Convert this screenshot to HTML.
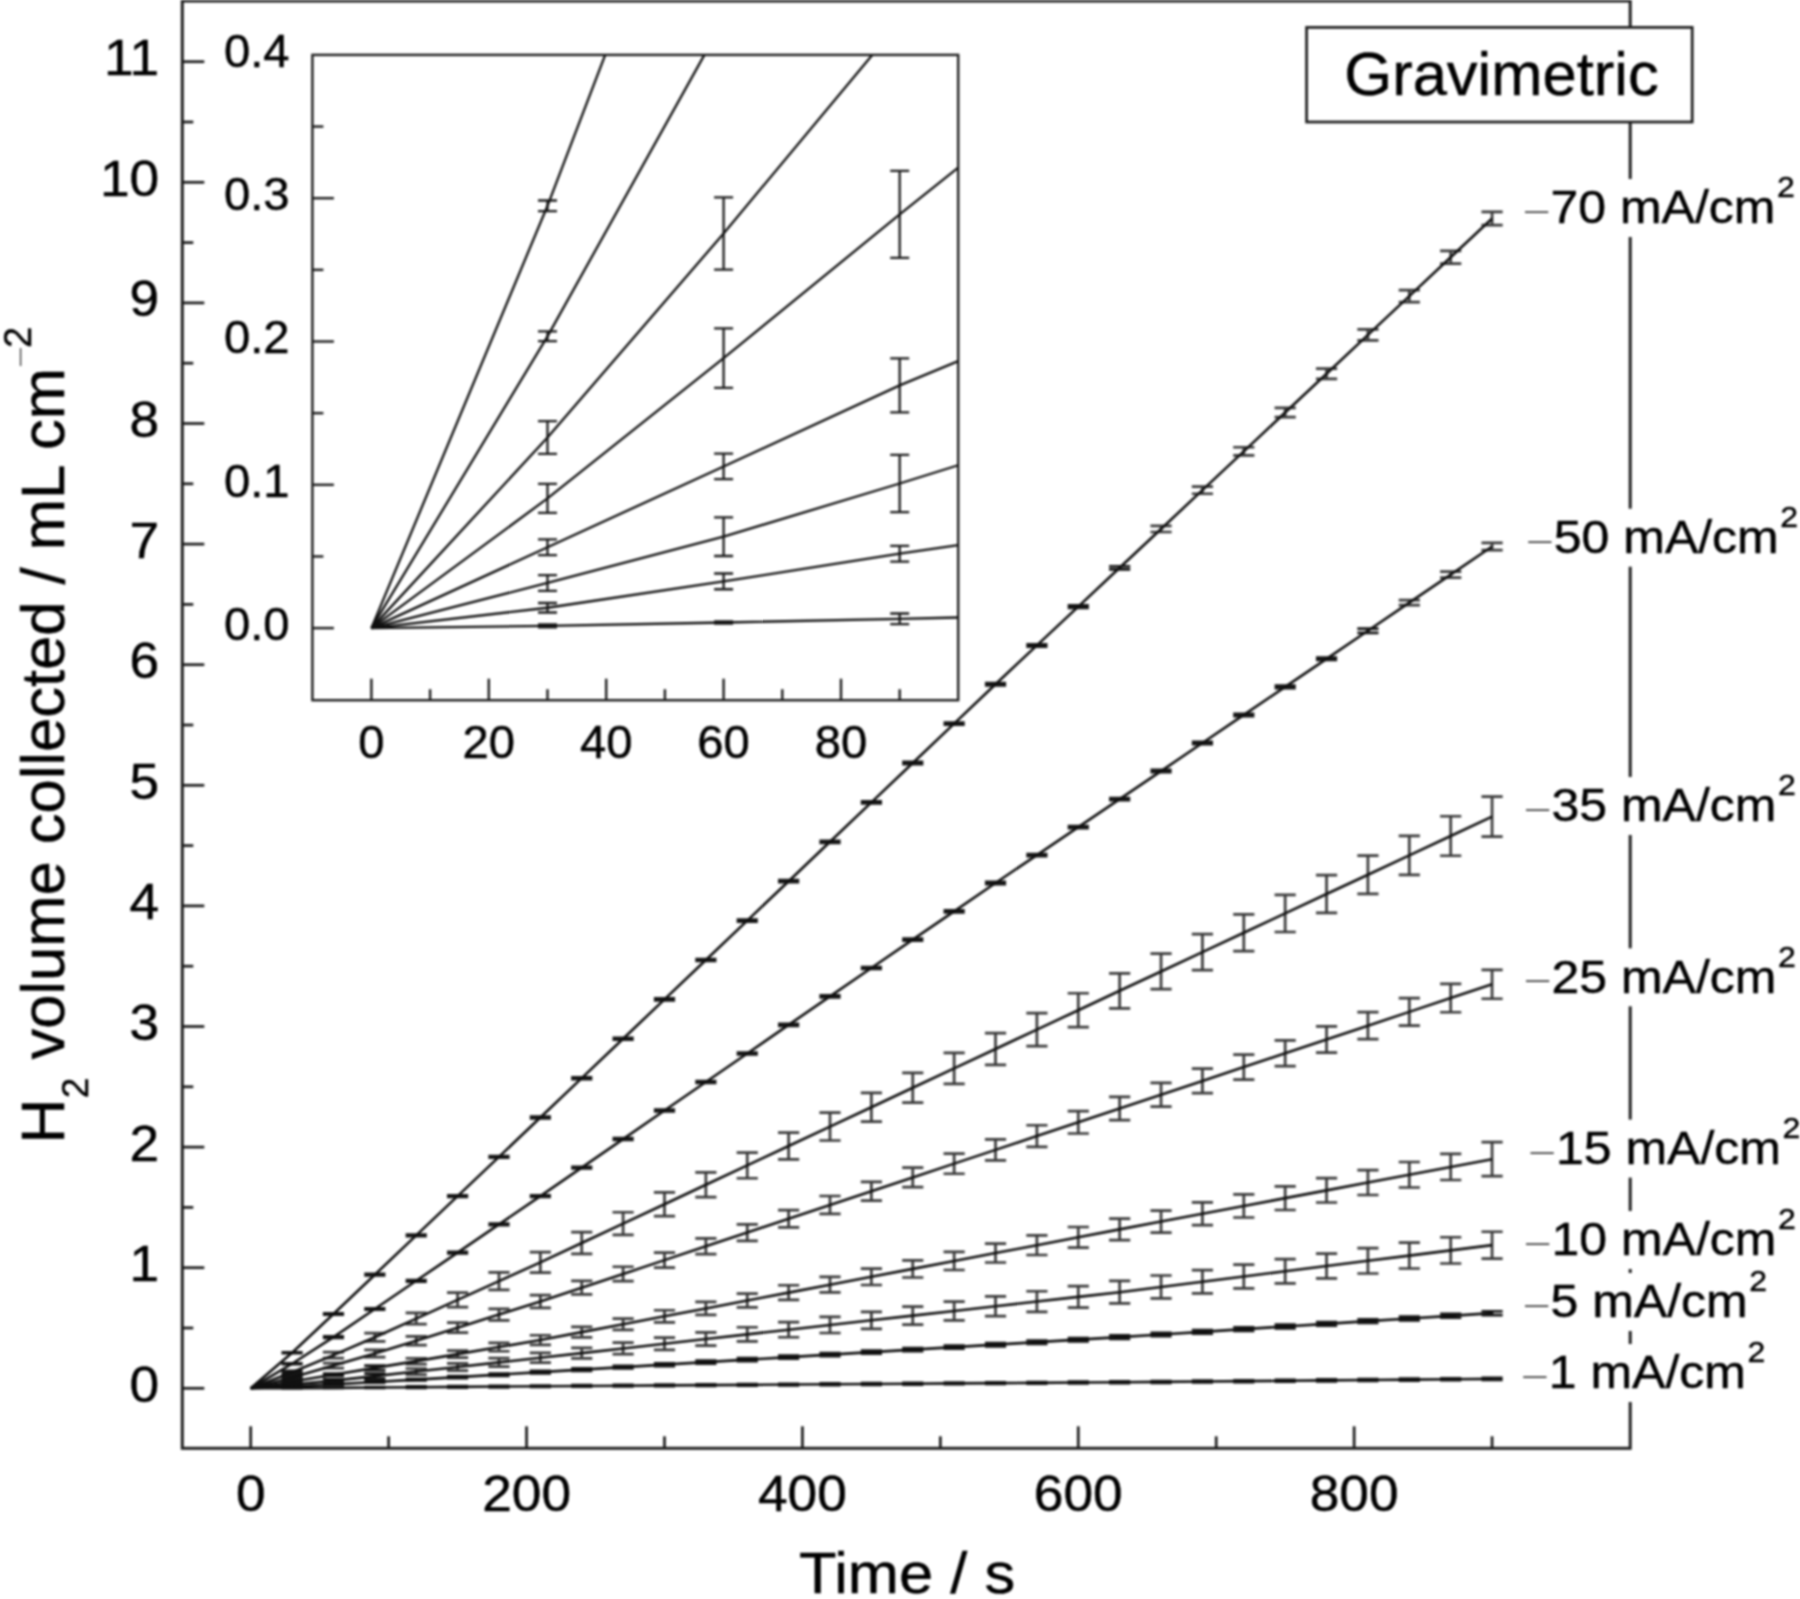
<!DOCTYPE html>
<html lang="en">
<head>
<meta charset="utf-8">
<title>Gravimetric H2 volume collected vs time</title>
<style>html,body{margin:0;padding:0;background:#fff;overflow:hidden}svg{display:block;filter:blur(1.0px)}</style>
</head>
<body>
<svg width="1800" height="1599" viewBox="0 0 1800 1599" font-family="'Liberation Sans', sans-serif" fill="#1c1c1c" stroke="#1c1c1c" stroke-linecap="butt" shape-rendering="geometricPrecision">
<rect x="0" y="0" width="1800" height="1599" fill="#ffffff" stroke="none"/>
<rect x="182.3" y="1.0" width="1447.9" height="1447.3" fill="none" stroke="#202020" stroke-width="3.0"/>
<line x1="182.30" y1="1388.30" x2="204.30" y2="1388.30" stroke-width="2.7" />
<line x1="182.30" y1="1267.70" x2="204.30" y2="1267.70" stroke-width="2.7" />
<line x1="182.30" y1="1147.10" x2="204.30" y2="1147.10" stroke-width="2.7" />
<line x1="182.30" y1="1026.50" x2="204.30" y2="1026.50" stroke-width="2.7" />
<line x1="182.30" y1="905.90" x2="204.30" y2="905.90" stroke-width="2.7" />
<line x1="182.30" y1="785.30" x2="204.30" y2="785.30" stroke-width="2.7" />
<line x1="182.30" y1="664.70" x2="204.30" y2="664.70" stroke-width="2.7" />
<line x1="182.30" y1="544.10" x2="204.30" y2="544.10" stroke-width="2.7" />
<line x1="182.30" y1="423.50" x2="204.30" y2="423.50" stroke-width="2.7" />
<line x1="182.30" y1="302.90" x2="204.30" y2="302.90" stroke-width="2.7" />
<line x1="182.30" y1="182.30" x2="204.30" y2="182.30" stroke-width="2.7" />
<line x1="182.30" y1="61.70" x2="204.30" y2="61.70" stroke-width="2.7" />
<line x1="182.30" y1="1328.00" x2="193.30" y2="1328.00" stroke-width="2.7" />
<line x1="182.30" y1="1207.40" x2="193.30" y2="1207.40" stroke-width="2.7" />
<line x1="182.30" y1="1086.80" x2="193.30" y2="1086.80" stroke-width="2.7" />
<line x1="182.30" y1="966.20" x2="193.30" y2="966.20" stroke-width="2.7" />
<line x1="182.30" y1="845.60" x2="193.30" y2="845.60" stroke-width="2.7" />
<line x1="182.30" y1="725.00" x2="193.30" y2="725.00" stroke-width="2.7" />
<line x1="182.30" y1="604.40" x2="193.30" y2="604.40" stroke-width="2.7" />
<line x1="182.30" y1="483.80" x2="193.30" y2="483.80" stroke-width="2.7" />
<line x1="182.30" y1="363.20" x2="193.30" y2="363.20" stroke-width="2.7" />
<line x1="182.30" y1="242.60" x2="193.30" y2="242.60" stroke-width="2.7" />
<line x1="182.30" y1="122.00" x2="193.30" y2="122.00" stroke-width="2.7" />
<line x1="250.70" y1="1448.30" x2="250.70" y2="1426.30" stroke-width="2.7" />
<line x1="526.56" y1="1448.30" x2="526.56" y2="1426.30" stroke-width="2.7" />
<line x1="802.42" y1="1448.30" x2="802.42" y2="1426.30" stroke-width="2.7" />
<line x1="1078.28" y1="1448.30" x2="1078.28" y2="1426.30" stroke-width="2.7" />
<line x1="1354.14" y1="1448.30" x2="1354.14" y2="1426.30" stroke-width="2.7" />
<line x1="388.63" y1="1448.30" x2="388.63" y2="1436.30" stroke-width="2.7" />
<line x1="664.49" y1="1448.30" x2="664.49" y2="1436.30" stroke-width="2.7" />
<line x1="940.35" y1="1448.30" x2="940.35" y2="1436.30" stroke-width="2.7" />
<line x1="1216.21" y1="1448.30" x2="1216.21" y2="1436.30" stroke-width="2.7" />
<line x1="1492.07" y1="1448.30" x2="1492.07" y2="1436.30" stroke-width="2.7" />
<g id="main-series" fill="none">
<path d="M1161.04,525.97V532.00M1150.44,525.97H1171.64M1150.44,532.00H1171.64M1202.42,486.61V493.73M1191.82,486.61H1213.02M1191.82,493.73H1213.02M1243.80,447.26V455.46M1233.20,447.26H1254.40M1233.20,455.46H1254.40M1285.17,407.96V417.13M1274.58,407.96H1295.77M1274.58,417.13H1295.77M1326.55,368.67V378.80M1315.95,368.67H1337.15M1315.95,378.80H1337.15M1367.93,329.37V340.47M1357.33,329.37H1378.53M1357.33,340.47H1378.53M1409.31,290.08V302.14M1398.71,290.08H1419.91M1398.71,302.14H1419.91M1450.69,250.93V263.65M1440.09,250.93H1461.29M1440.09,263.65H1461.29M1492.07,211.79V225.17M1481.47,211.79H1502.67M1481.47,225.17H1502.67" stroke-width="2.7" stroke="#3a3a3a"/>
<path d="M292.08,1352.31V1353.21M281.48,1352.31H302.68M281.48,1353.21H302.68M333.46,1313.29V1314.73M322.86,1313.29H344.06M322.86,1314.73H344.06M374.84,1273.97V1275.47M364.24,1273.97H385.44M364.24,1275.47H385.44M416.22,1234.65V1236.20M405.62,1234.65H426.82M405.62,1236.20H426.82M457.59,1195.33V1196.94M446.99,1195.33H468.19M446.99,1196.94H468.19M498.97,1156.01V1157.68M488.37,1156.01H509.57M488.37,1157.68H509.57M540.35,1116.70V1118.41M529.75,1116.70H550.95M529.75,1118.41H550.95M581.73,1077.28V1079.05M571.13,1077.28H592.33M571.13,1079.05H592.33M623.11,1037.86V1039.68M612.51,1037.86H633.71M612.51,1039.68H633.71M664.49,998.44V1000.31M653.89,998.44H675.09M653.89,1000.31H675.09M705.87,959.02V960.95M695.27,959.02H716.47M695.27,960.95H716.47M747.25,919.60V921.58M736.65,919.60H757.85M736.65,921.58H757.85M788.63,880.18V882.22M778.03,880.18H799.23M778.03,882.22H799.23M830.01,840.76V842.85M819.41,840.76H840.61M819.41,842.85H840.61M871.38,801.34V803.49M860.78,801.34H881.99M860.78,803.49H881.99M912.76,761.92V764.12M902.16,761.92H923.36M902.16,764.12H923.36M954.14,722.50V724.76M943.54,722.50H964.74M943.54,724.76H964.74M995.52,683.08V685.39M984.92,683.08H1006.12M984.92,685.39H1006.12M1036.90,644.24V646.60M1026.30,644.24H1047.50M1026.30,646.60H1047.50M1078.28,605.41V607.82M1067.68,605.41H1088.88M1067.68,607.82H1088.88M1119.66,566.23V569.37M1109.06,566.23H1130.26M1109.06,569.37H1130.26" stroke-width="2.7" stroke="#151515"/>
<path d="M1409.31,600.13V605.19M1398.71,600.13H1419.91M1398.71,605.19H1419.91M1450.69,571.57V577.60M1440.09,571.57H1461.29M1440.09,577.60H1461.29M1492.07,542.89V550.13M1481.47,542.89H1502.67M1481.47,550.13H1502.67" stroke-width="2.7" stroke="#3a3a3a"/>
<path d="M292.08,1363.34V1364.16M281.48,1363.34H302.68M281.48,1364.16H302.68M333.46,1336.44V1337.89M322.86,1336.44H344.06M322.86,1337.89H344.06M374.84,1308.23V1309.71M364.24,1308.23H385.44M364.24,1309.71H385.44M416.22,1280.01V1281.54M405.62,1280.01H426.82M405.62,1281.54H426.82M457.59,1251.79V1253.36M446.99,1251.79H468.19M446.99,1253.36H468.19M498.97,1223.58V1225.18M488.37,1223.58H509.57M488.37,1225.18H509.57M540.35,1195.36V1197.01M529.75,1195.36H550.95M529.75,1197.01H550.95M581.73,1166.79V1168.48M571.13,1166.79H592.33M571.13,1168.48H592.33M623.11,1138.22V1139.95M612.51,1138.22H633.71M612.51,1139.95H633.71M664.49,1109.66V1111.43M653.89,1109.66H675.09M653.89,1111.43H675.09M705.87,1081.09V1082.90M695.27,1081.09H716.47M695.27,1082.90H716.47M747.25,1052.52V1054.37M736.65,1052.52H757.85M736.65,1054.37H757.85M788.63,1023.95V1025.84M778.03,1023.95H799.23M778.03,1025.84H799.23M830.01,995.39V997.31M819.41,995.39H840.61M819.41,997.31H840.61M871.38,967.02V968.99M860.78,967.02H881.99M860.78,968.99H881.99M912.76,938.66V940.67M902.16,938.66H923.36M902.16,940.67H923.36M954.14,910.30V912.35M943.54,910.30H964.74M943.54,912.35H964.74M995.52,881.94V884.03M984.92,881.94H1006.12M984.92,884.03H1006.12M1036.90,853.98V856.11M1026.30,853.98H1047.50M1026.30,856.11H1047.50M1078.28,826.02V828.19M1067.68,826.02H1088.88M1067.68,828.19H1088.88M1119.66,798.06V800.27M1109.06,798.06H1130.26M1109.06,800.27H1130.26M1161.04,769.97V772.22M1150.44,769.97H1171.64M1150.44,772.22H1171.64M1202.42,741.88V744.17M1191.82,741.88H1213.02M1191.82,744.17H1213.02M1243.80,713.78V716.12M1233.20,713.78H1254.40M1233.20,716.12H1254.40M1285.17,685.69V688.06M1274.58,685.69H1295.77M1274.58,688.06H1295.77M1326.55,657.60V660.01M1315.95,657.60H1337.15M1315.95,660.01H1337.15M1367.93,628.68V632.78M1357.33,628.68H1378.53M1357.33,632.78H1378.53" stroke-width="2.7" stroke="#151515"/>
<path d="M333.46,1352.05V1358.13M322.86,1352.05H344.06M322.86,1358.13H344.06M374.84,1333.19V1341.39M364.24,1333.19H385.44M364.24,1341.39H385.44M416.22,1312.91V1324.21M405.62,1312.91H426.82M405.62,1324.21H426.82M457.59,1292.64V1307.04M446.99,1292.64H468.19M446.99,1307.04H468.19M498.97,1272.37V1289.87M488.37,1272.37H509.57M488.37,1289.87H509.57M540.35,1252.09V1272.69M529.75,1252.09H550.95M529.75,1272.69H550.95M581.73,1232.18V1253.81M571.13,1232.18H592.33M571.13,1253.81H592.33M623.11,1212.27V1234.92M612.51,1212.27H633.71M612.51,1234.92H633.71M664.49,1192.36V1216.03M653.89,1192.36H675.09M653.89,1216.03H675.09M705.87,1172.44V1197.15M695.27,1172.44H716.47M695.27,1197.15H716.47M747.25,1152.53V1178.26M736.65,1152.53H757.85M736.65,1178.26H757.85M788.63,1132.62V1159.38M778.03,1132.62H799.23M778.03,1159.38H799.23M830.01,1112.70V1140.49M819.41,1112.70H840.61M819.41,1140.49H840.61M871.38,1092.79V1121.61M860.78,1092.79H881.99M860.78,1121.61H881.99M912.76,1072.88V1102.72M902.16,1072.88H923.36M902.16,1102.72H923.36M954.14,1052.97V1083.83M943.54,1052.97H964.74M943.54,1083.83H964.74M995.52,1033.05V1064.95M984.92,1033.05H1006.12M984.92,1064.95H1006.12M1036.90,1013.14V1046.06M1026.30,1013.14H1047.50M1026.30,1046.06H1047.50M1078.28,993.23V1027.18M1067.68,993.23H1088.88M1067.68,1027.18H1088.88M1119.66,973.32V1008.29M1109.06,973.32H1130.26M1109.06,1008.29H1130.26M1161.04,953.68V989.22M1150.44,953.68H1171.64M1150.44,989.22H1171.64M1202.42,934.05V970.15M1191.82,934.05H1213.02M1191.82,970.15H1213.02M1243.80,914.42V951.08M1233.20,914.42H1254.40M1233.20,951.08H1254.40M1285.17,894.79V932.02M1274.58,894.79H1295.77M1274.58,932.02H1295.77M1326.55,875.16V912.95M1315.95,875.16H1337.15M1315.95,912.95H1337.15M1367.93,855.53V893.88M1357.33,855.53H1378.53M1357.33,893.88H1378.53M1409.31,835.90V874.81M1398.71,835.90H1419.91M1398.71,874.81H1419.91M1450.69,816.27V855.74M1440.09,816.27H1461.29M1440.09,855.74H1461.29M1492.07,796.64V836.68M1481.47,796.64H1502.67M1481.47,836.68H1502.67" stroke-width="2.7" stroke="#3a3a3a"/>
<path d="M292.08,1370.89V1373.64M281.48,1370.89H302.68M281.48,1373.64H302.68" stroke-width="2.7" stroke="#151515"/>
<path d="M333.46,1363.07V1368.09M322.86,1363.07H344.06M322.86,1368.09H344.06M374.84,1349.82V1357.15M364.24,1349.82H385.44M364.24,1357.15H385.44M416.22,1336.45V1345.15M405.62,1336.45H426.82M405.62,1345.15H426.82M457.59,1322.66V1332.72M446.99,1322.66H468.19M446.99,1332.72H468.19M498.97,1308.87V1320.29M488.37,1308.87H509.57M488.37,1320.29H509.57M540.35,1295.08V1307.86M529.75,1295.08H550.95M529.75,1307.86H550.95M581.73,1280.92V1294.45M571.13,1280.92H592.33M571.13,1294.45H592.33M623.11,1266.77V1281.03M612.51,1266.77H633.71M612.51,1281.03H633.71M664.49,1252.62V1267.62M653.89,1252.62H675.09M653.89,1267.62H675.09M705.87,1238.46V1254.21M695.27,1238.46H716.47M695.27,1254.21H716.47M747.25,1224.31V1240.80M736.65,1224.31H757.85M736.65,1240.80H757.85M788.63,1210.16V1227.39M778.03,1210.16H799.23M778.03,1227.39H799.23M830.01,1196.00V1213.97M819.41,1196.00H840.61M819.41,1213.97H840.61M871.38,1181.85V1200.56M860.78,1181.85H881.99M860.78,1200.56H881.99M912.76,1167.70V1187.15M902.16,1167.70H923.36M902.16,1187.15H923.36M954.14,1153.54V1173.74M943.54,1153.54H964.74M943.54,1173.74H964.74M995.52,1139.39V1160.32M984.92,1139.39H1006.12M984.92,1160.32H1006.12M1036.90,1125.24V1146.91M1026.30,1125.24H1047.50M1026.30,1146.91H1047.50M1078.28,1111.08V1133.50M1067.68,1111.08H1088.88M1067.68,1133.50H1088.88M1119.66,1096.93V1120.09M1109.06,1096.93H1130.26M1109.06,1120.09H1130.26M1161.04,1082.81V1106.61M1150.44,1082.81H1171.64M1150.44,1106.61H1171.64M1202.42,1068.68V1093.12M1191.82,1068.68H1213.02M1191.82,1093.12H1213.02M1243.80,1054.56V1079.64M1233.20,1054.56H1254.40M1233.20,1079.64H1254.40M1285.17,1040.44V1066.16M1274.58,1040.44H1295.77M1274.58,1066.16H1295.77M1326.55,1026.31V1052.68M1315.95,1026.31H1337.15M1315.95,1052.68H1337.15M1367.93,1012.19V1039.20M1357.33,1012.19H1378.53M1357.33,1039.20H1378.53M1409.31,998.07V1025.72M1398.71,998.07H1419.91M1398.71,1025.72H1419.91M1450.69,983.94V1012.24M1440.09,983.94H1461.29M1440.09,1012.24H1461.29M1492.07,969.82V998.76M1481.47,969.82H1502.67M1481.47,998.76H1502.67" stroke-width="2.7" stroke="#3a3a3a"/>
<path d="M292.08,1376.17V1378.60M281.48,1376.17H302.68M281.48,1378.60H302.68" stroke-width="2.7" stroke="#151515"/>
<path d="M416.22,1358.23V1364.04M405.62,1358.23H426.82M405.62,1364.04H426.82M457.59,1350.57V1357.66M446.99,1350.57H468.19M446.99,1357.66H468.19M498.97,1342.90V1351.27M488.37,1342.90H509.57M488.37,1351.27H509.57M540.35,1335.24V1344.88M529.75,1335.24H550.95M529.75,1344.88H550.95M581.73,1326.91V1337.40M571.13,1326.91H592.33M571.13,1337.40H592.33M623.11,1318.58V1329.91M612.51,1318.58H633.71M612.51,1329.91H633.71M664.49,1310.25V1322.42M653.89,1310.25H675.09M653.89,1322.42H675.09M705.87,1301.93V1314.93M695.27,1301.93H716.47M695.27,1314.93H716.47M747.25,1293.60V1307.44M736.65,1293.60H757.85M736.65,1307.44H757.85M788.63,1285.27V1299.95M778.03,1285.27H799.23M778.03,1299.95H799.23M830.01,1276.94V1292.47M819.41,1276.94H840.61M819.41,1292.47H840.61M871.38,1268.62V1284.98M860.78,1268.62H881.99M860.78,1284.98H881.99M912.76,1260.29V1277.49M902.16,1260.29H923.36M902.16,1277.49H923.36M954.14,1251.96V1270.00M943.54,1251.96H964.74M943.54,1270.00H964.74M995.52,1243.63V1262.51M984.92,1243.63H1006.12M984.92,1262.51H1006.12M1036.90,1235.31V1255.02M1026.30,1235.31H1047.50M1026.30,1255.02H1047.50M1078.28,1226.98V1247.53M1067.68,1226.98H1088.88M1067.68,1247.53H1088.88M1119.66,1218.65V1240.05M1109.06,1218.65H1130.26M1109.06,1240.05H1130.26M1161.04,1210.56V1232.54M1150.44,1210.56H1171.64M1150.44,1232.54H1171.64M1202.42,1202.47V1225.03M1191.82,1202.47H1213.02M1191.82,1225.03H1213.02M1243.80,1194.38V1217.52M1233.20,1194.38H1254.40M1233.20,1217.52H1254.40M1285.17,1186.29V1210.02M1274.58,1186.29H1295.77M1274.58,1210.02H1295.77M1326.55,1178.20V1202.51M1315.95,1178.20H1337.15M1315.95,1202.51H1337.15M1367.93,1170.11V1195.00M1357.33,1170.11H1378.53M1357.33,1195.00H1378.53M1409.31,1162.02V1187.49M1398.71,1162.02H1419.91M1398.71,1187.49H1419.91M1450.69,1153.93V1179.98M1440.09,1153.93H1461.29M1440.09,1179.98H1461.29M1492.07,1142.16V1176.16M1481.47,1142.16H1502.67M1481.47,1176.16H1502.67" stroke-width="2.7" stroke="#3a3a3a"/>
<path d="M292.08,1380.83V1382.16M281.48,1380.83H302.68M281.48,1382.16H302.68M333.46,1373.62V1375.77M322.86,1373.62H344.06M322.86,1375.77H344.06M374.84,1365.60V1370.14M364.24,1365.60H385.44M364.24,1370.14H385.44" stroke-width="2.7" stroke="#151515"/>
<path d="M416.22,1368.52V1374.55M405.62,1368.52H426.82M405.62,1374.55H426.82M457.59,1363.33V1370.57M446.99,1363.33H468.19M446.99,1370.57H468.19M498.97,1358.15V1366.59M488.37,1358.15H509.57M488.37,1366.59H509.57M540.35,1352.96V1362.61M529.75,1352.96H550.95M529.75,1362.61H550.95M581.73,1347.82V1358.38M571.13,1347.82H592.33M571.13,1358.38H592.33M623.11,1342.68V1354.15M612.51,1342.68H633.71M612.51,1354.15H633.71M664.49,1337.54V1349.92M653.89,1337.54H675.09M653.89,1349.92H675.09M705.87,1332.39V1345.69M695.27,1332.39H716.47M695.27,1345.69H716.47M747.25,1327.25V1341.46M736.65,1327.25H757.85M736.65,1341.46H757.85M788.63,1322.11V1337.23M778.03,1322.11H799.23M778.03,1337.23H799.23M830.01,1316.97V1333.00M819.41,1316.97H840.61M819.41,1333.00H840.61M871.38,1311.82V1328.78M860.78,1311.82H881.99M860.78,1328.78H881.99M912.76,1306.68V1324.55M902.16,1306.68H923.36M902.16,1324.55H923.36M954.14,1301.54V1320.32M943.54,1301.54H964.74M943.54,1320.32H964.74M995.52,1296.39V1316.09M984.92,1296.39H1006.12M984.92,1316.09H1006.12M1036.90,1291.25V1311.86M1026.30,1291.25H1047.50M1026.30,1311.86H1047.50M1078.28,1286.11V1307.63M1067.68,1286.11H1088.88M1067.68,1307.63H1088.88M1119.66,1280.97V1303.40M1109.06,1280.97H1130.26M1109.06,1303.40H1130.26M1161.04,1275.50V1298.41M1150.44,1275.50H1171.64M1150.44,1298.41H1171.64M1202.42,1270.03V1293.43M1191.82,1270.03H1213.02M1191.82,1293.43H1213.02M1243.80,1264.56V1288.44M1233.20,1264.56H1254.40M1233.20,1288.44H1254.40M1285.17,1259.10V1283.46M1274.58,1259.10H1295.77M1274.58,1283.46H1295.77M1326.55,1253.63V1278.47M1315.95,1253.63H1337.15M1315.95,1278.47H1337.15M1367.93,1248.16V1273.49M1357.33,1248.16H1378.53M1357.33,1273.49H1378.53M1409.31,1242.70V1268.50M1398.71,1242.70H1419.91M1398.71,1268.50H1419.91M1450.69,1237.23V1263.52M1440.09,1237.23H1461.29M1440.09,1263.52H1461.29M1492.07,1231.76V1258.53M1481.47,1231.76H1502.67M1481.47,1258.53H1502.67" stroke-width="2.7" stroke="#3a3a3a"/>
<path d="M292.08,1383.84V1385.16M281.48,1383.84H302.68M281.48,1385.16H302.68M333.46,1378.98V1382.23M322.86,1378.98H344.06M322.86,1382.23H344.06M374.84,1373.72V1378.54M364.24,1373.72H385.44M364.24,1378.54H385.44" stroke-width="2.7" stroke="#151515"/>
<path d="M292.08,1386.19V1386.99M281.48,1386.19H302.68M281.48,1386.99H302.68M333.46,1383.71V1385.03M322.86,1383.71H344.06M322.86,1385.03H344.06M374.84,1381.38V1382.70M364.24,1381.38H385.44M364.24,1382.70H385.44M416.22,1378.82V1380.48M405.62,1378.82H426.82M405.62,1380.48H426.82M457.59,1376.15V1378.14M446.99,1376.15H468.19M446.99,1378.14H468.19M498.97,1373.48V1375.80M488.37,1373.48H509.57M488.37,1375.80H509.57M540.35,1370.81V1373.47M529.75,1370.81H550.95M529.75,1373.47H550.95M581.73,1368.29V1370.99M571.13,1368.29H592.33M571.13,1370.99H592.33M623.11,1365.76V1368.52M612.51,1365.76H633.71M612.51,1368.52H633.71M664.49,1363.24V1366.05M653.89,1363.24H675.09M653.89,1366.05H675.09M705.87,1360.72V1363.58M695.27,1360.72H716.47M695.27,1363.58H716.47M747.25,1358.19V1361.11M736.65,1358.19H757.85M736.65,1361.11H757.85M788.63,1355.67V1358.63M778.03,1355.67H799.23M778.03,1358.63H799.23M830.01,1353.14V1356.16M819.41,1353.14H840.61M819.41,1356.16H840.61M871.38,1350.62V1353.69M860.78,1350.62H881.99M860.78,1353.69H881.99M912.76,1348.09V1351.22M902.16,1348.09H923.36M902.16,1351.22H923.36M954.14,1345.57V1348.75M943.54,1345.57H964.74M943.54,1348.75H964.74M995.52,1343.05V1346.28M984.92,1343.05H1006.12M984.92,1346.28H1006.12M1036.90,1340.52V1343.80M1026.30,1340.52H1047.50M1026.30,1343.80H1047.50M1078.28,1338.00V1341.33M1067.68,1338.00H1088.88M1067.68,1341.33H1088.88M1119.66,1335.47V1338.86M1109.06,1335.47H1130.26M1109.06,1338.86H1130.26M1161.04,1332.78V1336.22M1150.44,1332.78H1171.64M1150.44,1336.22H1171.64M1202.42,1330.09V1333.58M1191.82,1330.09H1213.02M1191.82,1333.58H1213.02M1243.80,1327.39V1330.94M1233.20,1327.39H1254.40M1233.20,1330.94H1254.40M1285.17,1324.70V1328.30M1274.58,1324.70H1295.77M1274.58,1328.30H1295.77M1326.55,1322.01V1325.66M1315.95,1322.01H1337.15M1315.95,1325.66H1337.15M1367.93,1319.32V1323.02M1357.33,1319.32H1378.53M1357.33,1323.02H1378.53M1409.31,1316.62V1320.38M1398.71,1316.62H1419.91M1398.71,1320.38H1419.91M1450.69,1313.93V1317.74M1440.09,1313.93H1461.29M1440.09,1317.74H1461.29M1492.07,1311.24V1315.10M1481.47,1311.24H1502.67M1481.47,1315.10H1502.67" stroke-width="2.7" stroke="#151515"/>
<path d="M292.08,1388.00V1388.24M281.48,1388.00H302.68M281.48,1388.24H302.68M333.46,1387.73V1387.93M322.86,1387.73H344.06M322.86,1387.93H344.06M374.84,1387.07V1387.96M364.24,1387.07H385.44M364.24,1387.96H385.44M416.22,1386.47V1387.92M405.62,1386.47H426.82M405.62,1387.92H426.82M457.59,1386.15V1387.61M446.99,1386.15H468.19M446.99,1387.61H468.19M498.97,1385.82V1387.31M488.37,1385.82H509.57M488.37,1387.31H509.57M540.35,1385.50V1387.00M529.75,1385.50H550.95M529.75,1387.00H550.95M581.73,1385.20V1386.73M571.13,1385.20H592.33M571.13,1386.73H592.33M623.11,1384.91V1386.45M612.51,1384.91H633.71M612.51,1386.45H633.71M664.49,1384.62V1386.18M653.89,1384.62H675.09M653.89,1386.18H675.09M705.87,1384.32V1385.90M695.27,1384.32H716.47M695.27,1385.90H716.47M747.25,1384.03V1385.63M736.65,1384.03H757.85M736.65,1385.63H757.85M788.63,1383.74V1385.35M778.03,1383.74H799.23M778.03,1385.35H799.23M830.01,1383.44V1385.08M819.41,1383.44H840.61M819.41,1385.08H840.61M871.38,1383.15V1384.80M860.78,1383.15H881.99M860.78,1384.80H881.99M912.76,1382.86V1384.53M902.16,1382.86H923.36M902.16,1384.53H923.36M954.14,1382.56V1384.25M943.54,1382.56H964.74M943.54,1384.25H964.74M995.52,1382.27V1383.98M984.92,1382.27H1006.12M984.92,1383.98H1006.12M1036.90,1381.98V1383.70M1026.30,1381.98H1047.50M1026.30,1383.70H1047.50M1078.28,1381.68V1383.43M1067.68,1381.68H1088.88M1067.68,1383.43H1088.88M1119.66,1381.39V1383.15M1109.06,1381.39H1130.26M1109.06,1383.15H1130.26M1161.04,1381.00V1382.79M1150.44,1381.00H1171.64M1150.44,1382.79H1171.64M1202.42,1380.62V1382.42M1191.82,1380.62H1213.02M1191.82,1382.42H1213.02M1243.80,1380.24V1382.05M1233.20,1380.24H1254.40M1233.20,1382.05H1254.40M1285.17,1379.85V1381.69M1274.58,1379.85H1295.77M1274.58,1381.69H1295.77M1326.55,1379.47V1381.32M1315.95,1379.47H1337.15M1315.95,1381.32H1337.15M1367.93,1379.08V1380.96M1357.33,1379.08H1378.53M1357.33,1380.96H1378.53M1409.31,1378.70V1380.59M1398.71,1378.70H1419.91M1398.71,1380.59H1419.91M1450.69,1378.31V1380.22M1440.09,1378.31H1461.29M1440.09,1380.22H1461.29M1492.07,1377.93V1379.86M1481.47,1377.93H1502.67M1481.47,1379.86H1502.67" stroke-width="2.7" stroke="#151515"/>
<polyline points="250.70,1388.30 292.08,1352.76 333.46,1314.01 374.84,1274.72 416.22,1235.43 457.59,1196.14 498.97,1156.84 540.35,1117.55 581.73,1078.16 623.11,1038.77 664.49,999.38 705.87,959.98 747.25,920.59 788.63,881.20 830.01,841.81 871.38,802.41 912.76,763.02 954.14,723.63 995.52,684.24 1036.90,645.42 1078.28,606.61 1119.66,567.80 1161.04,528.98 1202.42,490.17 1243.80,451.36 1285.17,412.55 1326.55,373.73 1367.93,334.92 1409.31,296.11 1450.69,257.29 1492.07,218.48" stroke-width="2.6" stroke="#101010" stroke-linejoin="round"/>
<polyline points="250.70,1388.30 292.08,1363.75 333.46,1337.17 374.84,1308.97 416.22,1280.77 457.59,1252.58 498.97,1224.38 540.35,1196.18 581.73,1167.64 623.11,1139.09 664.49,1110.54 705.87,1081.99 747.25,1053.45 788.63,1024.90 830.01,996.35 871.38,968.01 912.76,939.67 954.14,911.33 995.52,882.99 1036.90,855.05 1078.28,827.11 1119.66,799.17 1161.04,771.10 1202.42,743.02 1243.80,714.95 1285.17,686.88 1326.55,658.80 1367.93,630.73 1409.31,602.66 1450.69,574.58 1492.07,546.51" stroke-width="2.6" stroke="#101010" stroke-linejoin="round"/>
<polyline points="250.70,1388.30 292.08,1372.26 333.46,1355.09 374.84,1337.29 416.22,1318.56 457.59,1299.84 498.97,1281.12 540.35,1262.39 581.73,1242.99 623.11,1223.59 664.49,1204.20 705.87,1184.80 747.25,1165.40 788.63,1146.00 830.01,1126.60 871.38,1107.20 912.76,1087.80 954.14,1068.40 995.52,1049.00 1036.90,1029.60 1078.28,1010.20 1119.66,990.80 1161.04,971.45 1202.42,952.10 1243.80,932.75 1285.17,913.40 1326.55,894.05 1367.93,874.70 1409.31,855.36 1450.69,836.01 1492.07,816.66" stroke-width="2.6" stroke="#101010" stroke-linejoin="round"/>
<polyline points="250.70,1388.30 292.08,1377.39 333.46,1365.58 374.84,1353.48 416.22,1340.80 457.59,1327.69 498.97,1314.58 540.35,1301.47 581.73,1287.69 623.11,1273.90 664.49,1260.12 705.87,1246.34 747.25,1232.55 788.63,1218.77 830.01,1204.99 871.38,1191.21 912.76,1177.42 954.14,1163.64 995.52,1149.86 1036.90,1136.07 1078.28,1122.29 1119.66,1108.51 1161.04,1094.71 1202.42,1080.90 1243.80,1067.10 1285.17,1053.30 1326.55,1039.50 1367.93,1025.70 1409.31,1011.89 1450.69,998.09 1492.07,984.29" stroke-width="2.6" stroke="#101010" stroke-linejoin="round"/>
<polyline points="250.70,1388.30 292.08,1381.50 333.46,1374.70 374.84,1367.87 416.22,1361.14 457.59,1354.11 498.97,1347.09 540.35,1340.06 581.73,1332.15 623.11,1324.24 664.49,1316.34 705.87,1308.43 747.25,1300.52 788.63,1292.61 830.01,1284.70 871.38,1276.80 912.76,1268.89 954.14,1260.98 995.52,1253.07 1036.90,1245.17 1078.28,1237.26 1119.66,1229.35 1161.04,1221.55 1202.42,1213.75 1243.80,1205.95 1285.17,1198.15 1326.55,1190.36 1367.93,1182.56 1409.31,1174.76 1450.69,1166.96 1492.07,1159.16" stroke-width="2.6" stroke="#101010" stroke-linejoin="round"/>
<polyline points="250.70,1388.30 292.08,1384.50 333.46,1380.61 374.84,1376.13 416.22,1371.53 457.59,1366.95 498.97,1362.37 540.35,1357.79 581.73,1353.10 623.11,1348.42 664.49,1343.73 705.87,1339.04 747.25,1334.36 788.63,1329.67 830.01,1324.98 871.38,1320.30 912.76,1315.61 954.14,1310.93 995.52,1306.24 1036.90,1301.55 1078.28,1296.87 1119.66,1292.18 1161.04,1286.96 1202.42,1281.73 1243.80,1276.50 1285.17,1271.28 1326.55,1266.05 1367.93,1260.83 1409.31,1255.60 1450.69,1250.37 1492.07,1245.15" stroke-width="2.6" stroke="#101010" stroke-linejoin="round"/>
<polyline points="250.70,1388.30 292.08,1386.59 333.46,1384.37 374.84,1382.04 416.22,1379.65 457.59,1377.15 498.97,1374.64 540.35,1372.14 581.73,1369.64 623.11,1367.14 664.49,1364.65 705.87,1362.15 747.25,1359.65 788.63,1357.15 830.01,1354.65 871.38,1352.15 912.76,1349.66 954.14,1347.16 995.52,1344.66 1036.90,1342.16 1078.28,1339.66 1119.66,1337.17 1161.04,1334.50 1202.42,1331.83 1243.80,1329.17 1285.17,1326.50 1326.55,1323.83 1367.93,1321.17 1409.31,1318.50 1450.69,1315.83 1492.07,1313.17" stroke-width="2.6" stroke="#101010" stroke-linejoin="round"/>
<polyline points="250.70,1388.30 292.08,1388.12 333.46,1387.83 374.84,1387.52 416.22,1387.20 457.59,1386.88 498.97,1386.57 540.35,1386.25 581.73,1385.97 623.11,1385.68 664.49,1385.40 705.87,1385.11 747.25,1384.83 788.63,1384.54 830.01,1384.26 871.38,1383.98 912.76,1383.69 954.14,1383.41 995.52,1383.12 1036.90,1382.84 1078.28,1382.55 1119.66,1382.27 1161.04,1381.89 1202.42,1381.52 1243.80,1381.14 1285.17,1380.77 1326.55,1380.39 1367.93,1380.02 1409.31,1379.64 1450.69,1379.27 1492.07,1378.89" stroke-width="2.6" stroke="#101010" stroke-linejoin="round"/>
</g>
<g stroke="#000000" stroke-width="0.45" fill="#000000">
<text transform="translate(159.20,1401.70) scale(1.055,1)" font-size="50.5" text-anchor="end" >0</text>
<text transform="translate(159.20,1281.10) scale(1.055,1)" font-size="50.5" text-anchor="end" >1</text>
<text transform="translate(159.20,1160.50) scale(1.055,1)" font-size="50.5" text-anchor="end" >2</text>
<text transform="translate(159.20,1039.90) scale(1.055,1)" font-size="50.5" text-anchor="end" >3</text>
<text transform="translate(159.20,919.30) scale(1.055,1)" font-size="50.5" text-anchor="end" >4</text>
<text transform="translate(159.20,798.70) scale(1.055,1)" font-size="50.5" text-anchor="end" >5</text>
<text transform="translate(159.20,678.10) scale(1.055,1)" font-size="50.5" text-anchor="end" >6</text>
<text transform="translate(159.20,557.50) scale(1.055,1)" font-size="50.5" text-anchor="end" >7</text>
<text transform="translate(159.20,436.90) scale(1.055,1)" font-size="50.5" text-anchor="end" >8</text>
<text transform="translate(159.20,316.30) scale(1.055,1)" font-size="50.5" text-anchor="end" >9</text>
<text transform="translate(159.20,195.70) scale(1.055,1)" font-size="50.5" text-anchor="end" >10</text>
<text transform="translate(159.20,75.10) scale(1.055,1)" font-size="50.5" text-anchor="end" >11</text>
<text transform="translate(250.70,1511.40) scale(1.055,1)" font-size="50.5" text-anchor="middle" >0</text>
<text transform="translate(526.56,1511.40) scale(1.055,1)" font-size="50.5" text-anchor="middle" >200</text>
<text transform="translate(802.42,1511.40) scale(1.055,1)" font-size="50.5" text-anchor="middle" >400</text>
<text transform="translate(1078.28,1511.40) scale(1.055,1)" font-size="50.5" text-anchor="middle" >600</text>
<text transform="translate(1354.14,1511.40) scale(1.055,1)" font-size="50.5" text-anchor="middle" >800</text>
</g>
<g stroke="#000000" stroke-width="0.45" fill="#000000">
<text transform="translate(907.00,1593.00) scale(1.06,1)" font-size="58" text-anchor="middle" >Time / s</text>
<text transform="translate(63.6,1143.6) rotate(-90)" font-size="62">H</text>
<text transform="translate(88.2,1098.2) rotate(-90)" font-size="37">2</text>
<text transform="translate(63.6,1059.6) rotate(-90) scale(0.992,1)" font-size="62">volume collected / mL cm</text>
<text transform="translate(26.3,366.0) rotate(-90) scale(0.85,0.55)" font-size="38" fill="#3c3c3c" stroke="none">–</text>
<text transform="translate(30.6,348.0) rotate(-90)" font-size="38">2</text>
</g>
<g stroke="#000000" stroke-width="0.45" fill="#000000">
<rect x="1518" y="179.0" width="282" height="58" fill="#ffffff" stroke="none"/>
<rect x="1518" y="508.7" width="282" height="58" fill="#ffffff" stroke="none"/>
<rect x="1518" y="777.0" width="282" height="58" fill="#ffffff" stroke="none"/>
<rect x="1518" y="948.3" width="282" height="58" fill="#ffffff" stroke="none"/>
<rect x="1518" y="1119.6" width="282" height="58" fill="#ffffff" stroke="none"/>
<rect x="1518" y="1211.0" width="282" height="58" fill="#ffffff" stroke="none"/>
<rect x="1518" y="1273.0" width="282" height="58" fill="#ffffff" stroke="none"/>
<rect x="1518" y="1344.0" width="282" height="58" fill="#ffffff" stroke="none"/>
<text transform="translate(1525.00,218.90) scale(0.9,0.55)" font-size="46.5" fill="#3c3c3c" stroke="none">–</text>
<text transform="translate(1550.50,223.30) scale(1.068,1)" font-size="46.8">70 mA/cm<tspan font-size="30" dy="-26" dx="1.5">2</tspan></text>
<text transform="translate(1528.30,548.60) scale(0.9,0.55)" font-size="46.5" fill="#3c3c3c" stroke="none">–</text>
<text transform="translate(1553.80,553.00) scale(1.068,1)" font-size="46.8">50 mA/cm<tspan font-size="30" dy="-26" dx="1.5">2</tspan></text>
<text transform="translate(1526.00,816.90) scale(0.9,0.55)" font-size="46.5" fill="#3c3c3c" stroke="none">–</text>
<text transform="translate(1551.50,821.30) scale(1.068,1)" font-size="46.8">35 mA/cm<tspan font-size="30" dy="-26" dx="1.5">2</tspan></text>
<text transform="translate(1526.00,988.20) scale(0.9,0.55)" font-size="46.5" fill="#3c3c3c" stroke="none">–</text>
<text transform="translate(1551.50,992.60) scale(1.068,1)" font-size="46.8">25 mA/cm<tspan font-size="30" dy="-26" dx="1.5">2</tspan></text>
<text transform="translate(1530.50,1159.50) scale(0.9,0.55)" font-size="46.5" fill="#3c3c3c" stroke="none">–</text>
<text transform="translate(1556.00,1163.90) scale(1.068,1)" font-size="46.8">15 mA/cm<tspan font-size="30" dy="-26" dx="1.5">2</tspan></text>
<text transform="translate(1526.00,1250.90) scale(0.9,0.55)" font-size="46.5" fill="#3c3c3c" stroke="none">–</text>
<text transform="translate(1551.50,1255.30) scale(1.068,1)" font-size="46.8">10 mA/cm<tspan font-size="30" dy="-26" dx="1.5">2</tspan></text>
<text transform="translate(1525.00,1312.90) scale(0.9,0.55)" font-size="46.5" fill="#3c3c3c" stroke="none">–</text>
<text transform="translate(1550.50,1317.30) scale(1.068,1)" font-size="46.8">5 mA/cm<tspan font-size="30" dy="-26" dx="1.5">2</tspan></text>
<text transform="translate(1523.30,1383.90) scale(0.9,0.55)" font-size="46.5" fill="#3c3c3c" stroke="none">–</text>
<text transform="translate(1548.80,1388.30) scale(1.068,1)" font-size="46.8">1 mA/cm<tspan font-size="30" dy="-26" dx="1.5">2</tspan></text>
</g>
<rect x="1306.6" y="27.4" width="385.6" height="94.6" fill="#ffffff" stroke-width="2.7"/>
<g stroke="#000000" stroke-width="0.45" fill="#000000">
<text transform="translate(1501.50,95.30) scale(1.0,1)" font-size="61.5" text-anchor="middle" >Gravimetric</text>
</g>
<rect x="312.4" y="54.9" width="645.8000000000001" height="645.3000000000001" fill="#ffffff" stroke-width="2.4"/>
<line x1="312.40" y1="628.10" x2="333.90" y2="628.10" stroke-width="2.4" />
<line x1="312.40" y1="484.80" x2="333.90" y2="484.80" stroke-width="2.4" />
<line x1="312.40" y1="341.50" x2="333.90" y2="341.50" stroke-width="2.4" />
<line x1="312.40" y1="198.20" x2="333.90" y2="198.20" stroke-width="2.4" />
<line x1="312.40" y1="556.45" x2="323.40" y2="556.45" stroke-width="2.4" />
<line x1="312.40" y1="413.15" x2="323.40" y2="413.15" stroke-width="2.4" />
<line x1="312.40" y1="269.85" x2="323.40" y2="269.85" stroke-width="2.4" />
<line x1="312.40" y1="126.55" x2="323.40" y2="126.55" stroke-width="2.4" />
<line x1="371.40" y1="700.20" x2="371.40" y2="678.70" stroke-width="2.4" />
<line x1="488.80" y1="700.20" x2="488.80" y2="678.70" stroke-width="2.4" />
<line x1="606.20" y1="700.20" x2="606.20" y2="678.70" stroke-width="2.4" />
<line x1="723.60" y1="700.20" x2="723.60" y2="678.70" stroke-width="2.4" />
<line x1="841.00" y1="700.20" x2="841.00" y2="678.70" stroke-width="2.4" />
<line x1="430.10" y1="700.20" x2="430.10" y2="689.20" stroke-width="2.4" />
<line x1="547.50" y1="700.20" x2="547.50" y2="689.20" stroke-width="2.4" />
<line x1="664.90" y1="700.20" x2="664.90" y2="689.20" stroke-width="2.4" />
<line x1="782.30" y1="700.20" x2="782.30" y2="689.20" stroke-width="2.4" />
<line x1="899.70" y1="700.20" x2="899.70" y2="689.20" stroke-width="2.4" />
<g id="inset-series" fill="none">
<path d="M547.50,200.49V211.10M538.00,200.49H557.00M538.00,211.10H557.00" stroke-width="2.3"/>
<path d="M547.50,331.47V341.21M538.00,331.47H557.00M538.00,341.21H557.00" stroke-width="2.3"/>
<path d="M547.50,421.17V453.85M538.00,421.17H557.00M538.00,453.85H557.00M723.60,197.34V269.56M714.10,197.34H733.10M714.10,269.56H733.10" stroke-width="2.3"/>
<path d="M547.50,483.94V512.89M538.00,483.94H557.00M538.00,512.89H557.00M723.60,328.32V387.93M714.10,328.32H733.10M714.10,387.93H733.10M899.70,170.83V257.96M890.20,170.83H909.20M890.20,257.96H909.20" stroke-width="2.3"/>
<path d="M547.50,539.40V555.16M538.00,539.40H557.00M538.00,555.16H557.00M723.60,453.70V479.21M714.10,453.70H733.10M714.10,479.21H733.10M899.70,358.41V412.29M890.20,358.41H909.20M890.20,412.29H909.20" stroke-width="2.3"/>
<path d="M547.50,575.08V590.84M538.00,575.08H557.00M538.00,590.84H557.00M723.60,517.33V556.02M714.10,517.33H733.10M714.10,556.02H733.10M899.70,454.85V512.17M890.20,454.85H909.20M890.20,512.17H909.20" stroke-width="2.3"/>
<path d="M547.50,603.02V612.48M538.00,603.02H557.00M538.00,612.48H557.00M723.60,573.50V589.27M714.10,573.50H733.10M714.10,589.27H733.10M899.70,545.85V561.61M890.20,545.85H909.20M890.20,561.61H909.20" stroke-width="2.3"/>
<path d="M547.50,624.52V627.38M538.00,624.52H557.00M538.00,627.38H557.00M723.60,621.36V623.66M714.10,621.36H733.10M714.10,623.66H733.10M899.70,613.48V624.09M890.20,613.48H909.20M890.20,624.09H909.20" stroke-width="2.3"/>
<polyline points="371.40,628.10 547.50,205.79 605.21,54.90" stroke-width="2.3" stroke="#101010" stroke-linejoin="round"/>
<polyline points="371.40,628.10 547.50,336.34 704.42,54.90" stroke-width="2.3" stroke="#101010" stroke-linejoin="round"/>
<polyline points="371.40,628.10 547.50,437.51 723.60,233.45 872.26,54.90" stroke-width="2.3" stroke="#101010" stroke-linejoin="round"/>
<polyline points="371.40,628.10 547.50,498.41 723.60,358.12 899.70,214.39 958.20,167.69" stroke-width="2.3" stroke="#101010" stroke-linejoin="round"/>
<polyline points="371.40,628.10 547.50,547.28 723.60,466.46 899.70,385.35 958.20,361.07" stroke-width="2.3" stroke="#101010" stroke-linejoin="round"/>
<polyline points="371.40,628.10 547.50,582.96 723.60,536.67 899.70,483.51 958.20,465.23" stroke-width="2.3" stroke="#101010" stroke-linejoin="round"/>
<polyline points="371.40,628.10 547.50,607.75 723.60,581.38 899.70,553.73 958.20,545.16" stroke-width="2.3" stroke="#101010" stroke-linejoin="round"/>
<polyline points="371.40,628.10 547.50,625.95 723.60,622.51 899.70,618.79 958.20,617.50" stroke-width="2.3" stroke="#101010" stroke-linejoin="round"/>
</g>
<g stroke="#000000" stroke-width="0.45" fill="#000000">
<text transform="translate(289.60,639.90) scale(1.03,1)" font-size="45.8" text-anchor="end" >0.0</text>
<text transform="translate(289.60,496.60) scale(1.03,1)" font-size="45.8" text-anchor="end" >0.1</text>
<text transform="translate(289.60,353.30) scale(1.03,1)" font-size="45.8" text-anchor="end" >0.2</text>
<text transform="translate(289.60,210.00) scale(1.03,1)" font-size="45.8" text-anchor="end" >0.3</text>
<text transform="translate(289.60,66.70) scale(1.03,1)" font-size="45.8" text-anchor="end" >0.4</text>
<text transform="translate(371.40,757.90) scale(1.03,1)" font-size="45.8" text-anchor="middle" >0</text>
<text transform="translate(488.80,757.90) scale(1.03,1)" font-size="45.8" text-anchor="middle" >20</text>
<text transform="translate(606.20,757.90) scale(1.03,1)" font-size="45.8" text-anchor="middle" >40</text>
<text transform="translate(723.60,757.90) scale(1.03,1)" font-size="45.8" text-anchor="middle" >60</text>
<text transform="translate(841.00,757.90) scale(1.03,1)" font-size="45.8" text-anchor="middle" >80</text>
</g>
</svg>
</body>
</html>
